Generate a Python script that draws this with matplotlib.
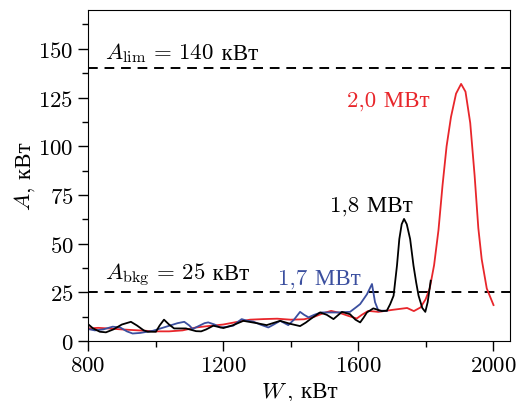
import matplotlib
matplotlib.use("Agg")
import matplotlib.pyplot as plt
from matplotlib.ticker import MultipleLocator
from matplotlib.transforms import offset_copy

# ========= fonts =========
plt.rcParams["font.family"] = ["cmr10", "Liberation Serif"]
plt.rcParams["mathtext.fontset"] = "cm"
plt.rcParams["axes.formatter.use_mathtext"] = True
plt.rcParams["font.size"] = 16.5

# ========= data =========
w_20 = [800, 830, 860, 900, 940, 980, 1000, 1040, 1080, 1120, 1160, 1200, 1240,
        1280, 1320, 1360, 1400, 1440, 1470, 1500, 1520, 1545, 1570, 1596, 1611,
        1630, 1660, 1700, 1745, 1765, 1785, 1800, 1812, 1825, 1838, 1850, 1862,
        1875, 1890, 1905, 1918, 1932, 1945, 1956, 1966, 1981, 2001]
a_20 = [6.5, 6.8, 6.5, 6.0, 5.6, 5.2, 5.0, 5.0, 5.5, 7.0, 7.8, 8.5, 9.8,
        11.0, 11.3, 11.5, 11.0, 11.2, 12.5, 14.5, 15.5, 14.5, 13.0, 11.6, 13.5,
        15.5, 15.0, 16.0, 17.0, 15.4, 17.3, 21.5, 27, 39, 57, 80, 100,
        115, 127, 132, 128, 112, 85, 58, 42, 27, 18.5]

w_17 = [800, 820, 845, 873, 895, 915, 932, 955, 975, 992, 1015, 1041, 1065,
        1085, 1100, 1110, 1125, 1145, 1156, 1175, 1191, 1210, 1230, 1245, 1255,
        1270, 1290, 1310, 1334, 1350, 1369, 1393, 1410, 1428, 1440, 1453, 1470,
        1490, 1537, 1576, 1595, 1606, 1626, 1641, 1650, 1660, 1680, 1685]
a_17 = [6.2, 5.5, 6.0, 7.4, 7.0, 5.0, 3.9, 4.2, 4.8, 5.3, 6.5, 7.9, 9.2,
        9.9, 8.0, 6.2, 7.5, 9.2, 9.6, 8.5, 7.0, 7.3, 7.9, 10.0, 11.3,
        10.5, 10.0, 8.5, 7.0, 8.5, 10.4, 8.2, 11.0, 15.0, 13.5, 12.2, 13.5,
        14.7, 14.7, 15.0, 17.5, 19.0, 24.0, 29.3, 20.0, 15.6, 15.6, 15.5]

w_18 = [800, 815, 835, 853, 875, 900, 927, 945, 965, 977, 1001, 1012, 1025,
        1040, 1055, 1090, 1120, 1135, 1150, 1171, 1201, 1230, 1260, 1300, 1329,
        1369, 1398, 1428, 1445, 1458, 1487, 1507, 1527, 1552, 1576, 1592, 1606,
        1616, 1626, 1645, 1670, 1685, 1695, 1705, 1715, 1722, 1729, 1736, 1744,
        1754, 1764, 1772, 1779, 1790, 1799, 1806, 1815]
a_18 = [8.7, 6.5, 4.8, 4.5, 6.0, 8.5, 9.9, 8.0, 5.5, 4.8, 4.8, 8.0, 11.0,
        8.5, 6.5, 6.5, 5.1, 5.0, 6.0, 7.9, 6.7, 8.2, 10.4, 9.2, 8.2,
        10.4, 8.9, 7.7, 9.5, 11.2, 14.7, 13.5, 11.3, 15.0, 13.8, 11.0, 9.6,
        12.0, 14.7, 16.8, 15.4, 15.6, 19.0, 23.3, 38.7, 52.4, 60.0, 62.7, 60.0,
        52.4, 38.7, 30.0, 23.3, 17.0, 15.0, 20.0, 31.0]

A_LIM = 140
A_BKG = 25

RED = "#e8262b"
BLUE = "#3b4f9f"

# ========= plot =========
fig = plt.figure(figsize=(5.21, 4.02), dpi=100)
ax = fig.add_axes([0.169, 0.149, 0.810, 0.824])

ax.axhline(A_LIM, color="black", ls=(0, (5, 3.5)), lw=1.4)
ax.axhline(A_BKG, color="black", ls=(0, (5, 3.5)), lw=1.4)

ax.plot(w_20, a_20, color=RED, lw=1.3)
ax.plot(w_17, a_17, color=BLUE, lw=1.3)
ax.plot(w_18, a_18, color="black", lw=1.3)

ax.set_xlim(800, 2050)
ax.set_ylim(0, 170)
ax.xaxis.set_major_locator(MultipleLocator(400))
ax.xaxis.set_minor_locator(MultipleLocator(200))
ax.yaxis.set_major_locator(MultipleLocator(25))
ax.yaxis.set_minor_locator(MultipleLocator(12.5))
ax.tick_params(which="major", direction="out", length=7, width=1)
ax.tick_params(which="minor", direction="out", length=4.5, width=1)
ax.tick_params(top=False, right=False)


# mathtext has no Cyrillic glyphs -> math part and Cyrillic part are two texts
def two_part(x, y, head, tail, transform, color="black", center=False, rot=0):
    kw = dict(color=color, va="baseline", ha="left", rotation=rot,
              rotation_mode="anchor", clip_on=False)
    t1 = fig.text(x, y, head, transform=transform, **kw)
    t2 = fig.text(x, y, tail, transform=transform, **kw)
    r = fig.canvas.get_renderer()
    b1 = t1.get_window_extent(r)
    b2 = t2.get_window_extent(r)
    w1 = b1.height if rot else b1.width
    w2 = b2.height if rot else b2.width
    s0 = -(w1 + w2) / 2 if center else 0
    for t, s in ((t1, s0), (t2, s0 + w1)):
        dx, dy = (0, s) if rot else (s, 0)
        t.set_transform(offset_copy(transform, fig=fig, x=dx, y=dy, units="dots"))


fig.canvas.draw()
two_part(850, 145, r"$A_{\rm lim}\,=\,%d$" % A_LIM, " кВт", ax.transData)
two_part(850, 32, r"$A_{\rm bkg}\,=\,%d$" % A_BKG, " кВт", ax.transData)
ax.text(1363, 29.5, "1,7 МВт", color=BLUE)
ax.text(1517, 67, "1,8 МВт", color="black")
ax.text(1567, 121, "2,0 МВт", color=RED)

# axis labels
two_part(0.574, 0.012, r"$W$", ", кВт", fig.transFigure, center=True)
two_part(0.058, 0.56, r"$A$", ", кВт", fig.transFigure, center=True, rot=90)

plt.savefig("out.png", dpi=100)
